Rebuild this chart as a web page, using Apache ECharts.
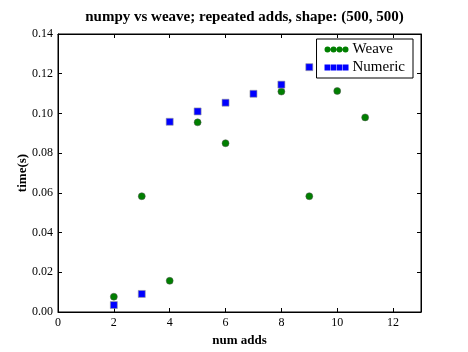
<!DOCTYPE html>
<html>
<head>
<meta charset="utf-8">
<script src="https://cdn.jsdelivr.net/npm/echarts@6/dist/echarts.min.js"></script>
<style>html,body{margin:0;padding:0;background:#fff}#c{width:468px;height:352px}</style>
</head>
<body>
<div id="c"></div>
<script>
var weaveX = [2, 3, 4, 5, 6, 8, 9, 10, 11];
var weaveY = [0.0077, 0.0583, 0.0157, 0.0955, 0.0850, 0.1110, 0.0583, 0.1113, 0.0980];
var numericX = [2, 3, 4, 5, 6, 7, 8, 9];
var numericY = [0.0035, 0.0091, 0.0958, 0.1010, 0.1054, 0.1099, 0.1145, 0.1233];
var xTicks = [0, 2, 4, 6, 8, 10, 12];
var yTicks = [0.00, 0.02, 0.04, 0.06, 0.08, 0.10, 0.12, 0.14];

function pairs(xs, ys) { return xs.map(function (x, i) { return [x, ys[i]]; }); }

var FONT = '"Liberation Serif", "DejaVu Serif", serif';
var circles4 = 'path://M0,3a3,3 0 1,0 6,0a3,3 0 1,0 -6,0Z M6,3a3,3 0 1,0 6,0a3,3 0 1,0 -6,0Z M12,3a3,3 0 1,0 6,0a3,3 0 1,0 -6,0Z M18,3a3,3 0 1,0 6,0a3,3 0 1,0 -6,0Z';
var squares4 = 'path://M0,0h5.6v6h-5.6Z M6.1,0h5.6v6h-5.6Z M12.2,0h5.6v6h-5.6Z M18.3,0h5.7v6h-5.7Z';

var axisCommon = {
  axisLine: { show: true, onZero: false, lineStyle: { color: '#000', width: 1 } },
  axisTick: { show: true, inside: true, length: 4, lineStyle: { color: '#000', width: 1 } },
  splitLine: { show: false }
};

var chart = echarts.init(document.getElementById('c'), null, { renderer: 'canvas' });
chart.setOption({
  animation: false,
  backgroundColor: '#fff',
  title: {
    text: 'numpy vs weave; repeated adds, shape: (500, 500)',
    left: 239.5, textAlign: 'center', top: 5,
    textStyle: { fontFamily: FONT, fontSize: 15, fontWeight: 'bold', color: '#000' }
  },
  grid: { left: 58, right: 47, top: 34, bottom: 36, show: true, borderColor: '#000', borderWidth: 1, backgroundColor: 'transparent' },
  legend: {
    orient: 'vertical', right: 55, top: 39,
    backgroundColor: '#fff', borderColor: '#000', borderWidth: 1, borderRadius: 0,
    padding: [3, 8, 3, 8], itemGap: 3, itemWidth: 24, itemHeight: 6,
    textStyle: { fontFamily: FONT, fontSize: 15, color: '#000', padding: [0, 0, 0, -1] },
    data: [
      { name: 'Weave', icon: circles4, itemStyle: { color: '#007f00', borderWidth: 0 } },
      { name: 'Numeric', icon: squares4, itemStyle: { color: '#0000ff', borderWidth: 0 } }
    ]
  },
  xAxis: [
    Object.assign({
      type: 'value', min: 0, max: 13, interval: 2, position: 'bottom',
      name: 'num adds', nameLocation: 'middle', nameGap: 22, nameMoveOverlap: false,
      nameTextStyle: { fontFamily: FONT, fontSize: 13, fontWeight: 'bold', color: '#000' },
      axisLabel: { fontFamily: FONT, fontSize: 12, color: '#000', margin: 5,
        formatter: function (v) { return xTicks.indexOf(v) >= 0 ? String(v) : ''; } }
    }, axisCommon),
    Object.assign({
      type: 'value', min: 0, max: 13, interval: 2, position: 'top', axisLabel: { show: false }
    }, axisCommon)
  ],
  yAxis: [
    Object.assign({
      type: 'value', min: 0, max: 0.14, interval: 0.02, position: 'left',
      name: 'time(s)', nameLocation: 'middle', nameGap: 29, nameMoveOverlap: false,
      nameTextStyle: { fontFamily: FONT, fontSize: 13, fontWeight: 'bold', color: '#000' },
      axisLabel: { fontFamily: FONT, fontSize: 12, color: '#000', margin: 5,
        formatter: function (v) {
          for (var i = 0; i < yTicks.length; i++) if (Math.abs(yTicks[i] - v) < 1e-9) return yTicks[i].toFixed(2);
          return '';
        } }
    }, axisCommon),
    Object.assign({
      type: 'value', min: 0, max: 0.14, interval: 0.02, position: 'right', axisLabel: { show: false }
    }, axisCommon)
  ],
  series: [
    {
      name: 'Weave', type: 'scatter', xAxisIndex: 0, yAxisIndex: 0,
      symbol: 'circle', symbolSize: 7,
      itemStyle: { color: '#007f00', borderColor: '#555', borderWidth: 0.5, opacity: 1 },
      data: pairs(weaveX, weaveY)
    },
    {
      name: 'Numeric', type: 'scatter', xAxisIndex: 0, yAxisIndex: 0,
      symbol: 'rect', symbolSize: 7,
      itemStyle: { color: '#0000ff', borderColor: '#999', borderWidth: 0.6, opacity: 1 },
      data: pairs(numericX, numericY)
    }
  ]
});
</script>
</body>
</html>
